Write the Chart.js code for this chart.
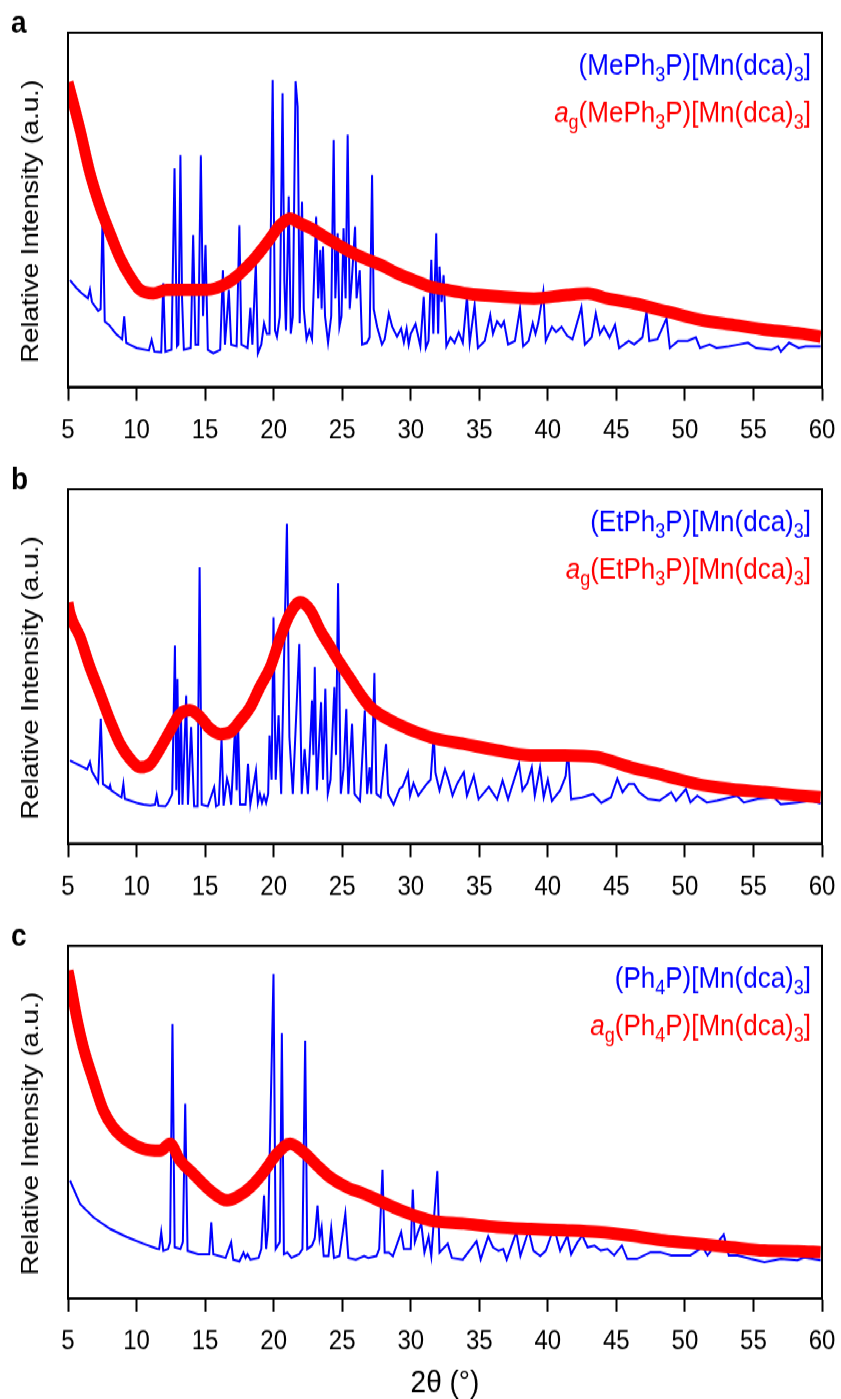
<!DOCTYPE html>
<html><head><meta charset="utf-8">
<script src="https://cdn.jsdelivr.net/npm/chart.js@4.4.1/dist/chart.umd.min.js"></script>
<style>
html,body{margin:0;padding:0;background:#fff;overflow:hidden;}
#wrap{position:absolute;left:0;top:0;width:841px;height:1238px;transform:scaleY(1.13);transform-origin:0 0;}
canvas{position:absolute;left:0;}
</style></head><body>
<div id="wrap">
<canvas id="ca" width="841" height="404" style="top:0px;width:841px;height:404px"></canvas>
<canvas id="cb" width="841" height="404" style="top:404px;width:841px;height:404px"></canvas>
<canvas id="cc" width="841" height="430" style="top:808px;width:841px;height:430px"></canvas>
</div>
<script>
// ---- x axis ----
const xMin = 5, xMax = 60, xStep = 5;
const xAxisTitle = '2θ (°)';
const yAxisTitle = 'Relative Intensity (a.u.)';

// ---- panel a : (MePh3P)[Mn(dca)3] ----
const aCrystal = [[5.15,30.2],[5.6,28],[6.0,26.5],[6.45,25],[6.6,27.5],[6.75,24],[7.2,21.5],[7.38,22],[7.53,49.5],[7.68,18.5],[8.0,17.5],[8.5,15],[8.95,13.5],[9.1,19.9],[9.25,12.5],[10.0,11],[10.9,10.3],[11.1,13.3],[11.3,10],[11.8,9.8],[11.95,29.3],[12.1,10],[12.55,10.5],[12.77,61.7],[12.95,11.5],[13.05,12],[13.2,65.5],[13.32,25],[13.45,10.5],[13.95,11],[14.13,42.9],[14.3,12],[14.5,12],[14.69,65.4],[14.85,20],[15.03,40.1],[15.2,10.5],[15.6,9.5],[16.1,10.5],[16.3,33],[16.45,12],[16.6,20],[16.73,27.4],[16.9,12],[17.3,11.5],[17.5,45.6],[17.65,12],[18.1,11],[18.3,22.3],[18.45,12],[18.7,34.9],[18.85,9.5],[19.1,12],[19.3,18],[19.5,15],[19.7,15],[19.93,86.7],[20.1,16],[20.24,14.2],[20.45,20],[20.65,82.9],[20.78,30],[20.9,16],[21.1,53.8],[21.25,15],[21.4,20],[21.6,86.3],[21.75,79.2],[21.9,18],[22.07,52.3],[22.2,22],[22.4,13.5],[22.6,16],[22.8,13.5],[23.1,48.1],[23.25,25],[23.4,38.7],[23.5,22],[23.6,39.6],[23.75,20],[23.97,12.5],[24.2,20],[24.38,69.8],[24.5,25],[24.67,43.4],[24.8,17],[24.95,20],[25.1,44.8],[25.25,25],[25.4,71.2],[25.55,22],[25.7,30],[25.94,45.3],[26.05,25],[26.28,33],[26.45,12],[26.8,12.5],[27.0,14],[27.18,59.9],[27.3,22],[27.55,17],[27.9,12],[28.1,13.5],[28.4,20.8],[28.65,17],[29.0,14.2],[29.3,16.5],[29.5,12.6],[29.7,16.5],[29.85,12],[30.0,15],[30.35,17.8],[30.7,11.5],[30.95,25.5],[31.1,11],[31.3,13],[31.5,35.9],[31.65,15],[31.86,43.4],[32.0,15],[32.1,34],[32.25,24],[32.4,31.6],[32.6,11.5],[32.9,14],[33.2,12.5],[33.5,15.5],[33.8,12.5],[34.1,25.5],[34.3,12.5],[34.66,23.2],[34.9,11],[35.4,13],[35.8,20.3],[36.0,15],[36.3,18.5],[36.6,17],[36.8,18.5],[37.1,12],[37.6,13],[37.97,22.2],[38.2,11.5],[38.6,13],[38.9,18],[39.1,15],[39.3,18],[39.67,26.9],[39.85,13],[40.3,17],[40.6,15.5],[41.0,17],[41.4,14.5],[41.8,13.5],[42.45,22.5],[42.7,12],[43.2,14],[43.5,20.8],[43.8,15],[44.1,17],[44.5,14],[44.9,17.5],[45.2,11],[45.9,13],[46.3,12],[46.9,14],[47.2,21.3],[47.4,13],[48.0,13.5],[48.66,19.4],[48.9,11],[49.5,13],[50.2,13],[50.8,14],[51.1,11],[51.8,12],[52.3,11],[53.2,11.5],[53.9,12],[54.6,12.5],[55.2,11],[56.3,10.5],[56.8,11.5],[57.0,10],[57.6,12.5],[58.3,11],[58.8,11.5],[59.9,11.5]];
const aGlass = [[5.0,86],[5.27,82],[5.88,72.6],[6.6,60.4],[7.34,50.9],[8.07,43.4],[8.8,36.4],[9.53,31.2],[10.26,27.4],[11.23,26.4],[12.2,27.4],[13.67,27.4],[15.13,27.4],[16.6,29.3],[17.56,32.1],[18.53,35.9],[19.5,40.6],[20.5,45.8],[21.2,47.5],[21.95,46.2],[22.9,44.4],[24.1,41.5],[25.35,38.7],[26.57,36.4],[27.8,34.5],[29.0,32.1],[30.2,30.2],[31.45,28.3],[32.5,27.5],[34.1,26.4],[36.55,25.5],[38.99,25.0],[41.4,26.0],[42.9,26.4],[44.35,25.0],[46.3,23.6],[48.7,21.3],[51.2,18.9],[53.6,17.5],[56.0,16.1],[58.47,15.1],[59.9,14.2]];

// ---- panel b : (EtPh3P)[Mn(dca)3] ----
const bCrystal = [[5.15,23.4],[6.4,21],[6.6,23],[6.75,20.3],[7.2,17.3],[7.39,35.2],[7.55,16.8],[8.0,15.5],[8.07,16.4],[8.15,15],[8.9,13],[9.04,16.8],[9.15,12.6],[10.0,11.5],[10.5,11],[11.0,10.8],[11.35,11],[11.47,13.6],[11.6,10.7],[12.1,10.5],[12.3,11.5],[12.6,14],[12.8,55.9],[12.9,15],[12.98,46.5],[13.1,11],[13.23,38.5],[13.35,11],[13.62,41.8],[13.75,11],[13.98,32.9],[14.2,10.5],[14.45,10.5],[14.6,78],[14.75,11],[15.2,10.5],[15.66,15.9],[15.8,10.5],[16.0,11],[16.2,29.6],[16.35,10.7],[16.6,18.3],[16.75,16],[16.9,11],[17.2,33.8],[17.3,15],[17.4,34.7],[17.55,11],[17.95,11],[18.13,22.5],[18.3,11],[18.71,20.6],[18.85,11.5],[19.0,14],[19.15,11.5],[19.3,13.5],[19.45,11.5],[19.6,14],[19.7,30.5],[19.85,18],[19.99,63.9],[20.15,18],[20.36,36.2],[20.55,14],[20.97,90.3],[21.15,30],[21.4,14],[21.87,56.4],[22.05,14],[22.26,26.7],[22.5,14],[22.8,40.4],[22.9,25],[23.0,49.8],[23.15,15],[23.46,39.9],[23.6,18],[23.77,43.7],[23.95,14],[24.15,18],[24.43,44.2],[24.55,25],[24.7,73.5],[24.9,14],[25.1,21],[25.3,38],[25.45,14],[25.72,33.8],[25.9,14],[26.3,12],[26.65,37.6],[26.82,14],[27.0,21.5],[27.12,14],[27.35,48.1],[27.5,14],[27.8,13],[28.2,28.1],[28.35,14],[28.75,11],[29.2,15.5],[29.4,16],[29.8,20.1],[29.95,13.5],[30.2,17],[30.55,13.5],[31.2,17],[31.45,18],[31.68,30.9],[31.8,20],[32.1,15],[32.5,21],[32.75,18],[33.05,13.5],[33.4,17],[33.87,20.1],[34.1,13.5],[34.6,19.2],[34.95,12.5],[35.7,16],[36.3,12.5],[36.7,17.8],[37.1,12.5],[37.9,22.5],[38.15,15],[38.5,17],[38.83,21.5],[39.05,13.5],[39.43,21.5],[39.7,13],[40.0,18],[40.3,12],[40.9,15],[41.3,19],[41.47,26.3],[41.7,12.5],[42.5,13],[43.3,14],[43.9,11.5],[44.6,13],[45.07,18.3],[45.45,14.5],[45.9,16.8],[46.3,16.8],[46.66,14.5],[47.3,12.6],[48.15,12.1],[49.0,14.5],[49.35,12.1],[50.07,15.4],[50.4,11.6],[50.9,13.5],[51.6,11.6],[52.35,12.1],[53.8,13.5],[54.3,11.6],[55.3,12.6],[56.5,13],[57.0,11.1],[58.2,11.6],[59.2,12.1],[59.9,11.3]];
const bGlass = [[5.0,68],[5.15,64.9],[5.88,58.3],[6.6,49.8],[7.34,42.3],[8.07,34.7],[8.8,28.1],[9.53,23.9],[10.26,21.5],[11.0,22.5],[11.7,26.7],[12.45,31.9],[13.18,36.6],[13.9,37.6],[14.64,35.7],[15.37,32.4],[16.1,30.9],[16.8,31.4],[17.56,34.7],[18.3,38.5],[19.0,44.2],[19.76,49.8],[20.5,58.3],[21.2,64.9],[21.95,68.2],[22.68,65.8],[23.4,60.2],[24.1,55.7],[24.86,50.8],[25.6,46.5],[26.3,42.3],[27.06,38.5],[29.0,33.8],[31.45,30],[33.9,28.1],[36.3,26.3],[38.75,24.9],[41.2,24.9],[43.6,24.4],[46.05,21.5],[48.5,19.2],[50.9,16.8],[53.36,15.4],[55.8,14.5],[58.2,13.6],[59.9,13.1]];

// ---- panel c : (Ph4P)[Mn(dca)3] ----
const cCrystal = [[5.15,33.4],[5.88,26.8],[6.85,23],[8.07,19.7],[9.29,17.4],[10.5,15.5],[11.48,14.1],[11.65,14],[11.8,18.8],[11.95,13.5],[12.3,14],[12.45,16],[12.62,77.8],[12.78,14.5],[13.2,14],[13.38,16],[13.55,55.2],[13.72,13.5],[14.5,12.5],[15.3,12.5],[15.45,21.6],[15.6,12.5],[16.5,11.5],[16.9,15.9],[17.05,11],[17.5,10.5],[17.8,13],[17.95,11.5],[18.1,12.5],[18.3,11],[18.9,11.5],[19.1,14],[19.3,29.2],[19.45,14],[19.6,20],[19.99,92],[20.15,14],[20.45,16],[20.6,75.2],[20.75,12.5],[21.0,13],[21.3,11.5],[21.85,12.5],[22.1,14],[22.3,73.1],[22.45,14],[22.8,15],[23.0,17],[23.2,26.3],[23.35,17],[23.5,20.2],[23.65,12],[24.0,12],[24.2,19.9],[24.4,11.5],[24.8,12],[25.23,24],[25.45,11.5],[26.0,11],[26.6,12],[26.9,11.5],[27.5,12],[27.7,14],[27.94,36.5],[28.1,13],[28.4,13],[28.7,12],[29.3,18.8],[29.5,14],[30.0,14],[30.15,30.8],[30.3,16],[30.55,19],[30.77,21.2],[31.0,13],[31.3,17.5],[31.5,12],[31.94,36.1],[32.1,13],[32.7,15.5],[33.0,11.5],[33.8,11],[34.8,16.2],[35.1,11],[35.65,17.6],[36.0,14.5],[36.4,13.5],[36.75,14],[37.0,11],[37.7,18.8],[38.0,12],[38.6,19.3],[38.95,13.5],[39.45,12],[39.85,13.5],[40.45,20.2],[40.9,13.5],[41.43,17.8],[41.7,12.5],[42.16,15.9],[42.52,17.8],[42.9,14.5],[43.4,15],[43.86,13.6],[44.35,14],[44.84,12.2],[45.4,15],[45.8,11.2],[46.5,11.2],[47.5,13.1],[48.2,13.1],[49.0,12.2],[50.4,12.2],[51.3,14.5],[51.65,12.2],[52.83,18.1],[53.2,12.2],[53.85,12.2],[54.8,11.2],[55.8,10.3],[57.0,11.2],[58.2,10.8],[58.7,11.6],[59.9,10.8]];
const cGlass = [[5.0,93],[5.15,90],[5.63,79.7],[6.12,71.2],[6.85,61.8],[7.58,53.3],[8.3,48.5],[9.29,44.8],[10.5,42.4],[11.7,41.9],[12.45,43.8],[13.18,39.1],[14.15,35.3],[15.37,30.6],[16.6,27.8],[17.3,28.7],[18.3,31.5],[19.27,35.8],[20.24,41],[21.2,43.8],[22.2,41.4],[23.17,37.7],[24.1,34.4],[25.35,31.5],[26.57,29.7],[29.0,25.4],[31.45,22.1],[33.9,21.2],[36.3,20.2],[38.75,19.7],[41.2,19.3],[43.6,18.8],[46.05,17.8],[48.5,16.4],[50.9,15.5],[53.36,14.5],[55.8,13.6],[58.2,13.4],[59.9,13.1]];

// ---- legend labels (rich text parts) ----
const aLabels = [
  {color:'#0000ff', parts:[['(MePh'],['3','sub'],['P)[Mn(dca)'],['3','sub'],[']']]},
  {color:'#ff0000', parts:[['a','it'],['g','sub'],['(MePh'],['3','sub'],['P)[Mn(dca)'],['3','sub'],[']']]}
];
const bLabels = [
  {color:'#0000ff', parts:[['(EtPh'],['3','sub'],['P)[Mn(dca)'],['3','sub'],[']']]},
  {color:'#ff0000', parts:[['a','it'],['g','sub'],['(EtPh'],['3','sub'],['P)[Mn(dca)'],['3','sub'],[']']]}
];
const cLabels = [
  {color:'#0000ff', parts:[['(Ph'],['4','sub'],['P)[Mn(dca)'],['3','sub'],[']']]},
  {color:'#ff0000', parts:[['a','it'],['g','sub'],['(Ph'],['4','sub'],['P)[Mn(dca)'],['3','sub'],[']']]}
];

const FONT = '"Liberation Sans", Arial, Helvetica, sans-serif';
const MAIN = 26, SUB = 18;

function partFont(kind){
  if (kind === 'sub') return SUB + 'px ' + FONT;
  if (kind === 'it') return 'italic ' + MAIN + 'px ' + FONT;
  return MAIN + 'px ' + FONT;
}
function drawRich(ctx, parts, right, baseline, color){
  let w = 0;
  parts.forEach(p => { ctx.font = partFont(p[1]); w += ctx.measureText(p[0]).width; });
  let x = right - w;
  ctx.fillStyle = color; ctx.textAlign = 'left'; ctx.textBaseline = 'alphabetic';
  parts.forEach(p => {
    ctx.font = partFont(p[1]);
    ctx.fillText(p[0], x, baseline + (p[1] === 'sub' ? 6 : 0));
    x += ctx.measureText(p[0]).width;
  });
}

const panelDecor = {
  id: 'panelDecor',
  afterDatasetsDraw(chart, args, opts) {
    const ctx = chart.ctx, ca = chart.chartArea;
    ctx.save();
    ctx.strokeStyle = '#000'; ctx.lineWidth = 2;
    ctx.strokeRect(ca.left, ca.top, ca.right - ca.left, ca.bottom - ca.top);
    ctx.fillStyle = '#000';
    ctx.font = 'bold 28px ' + FONT;
    ctx.textAlign = 'left'; ctx.textBaseline = 'alphabetic';
    ctx.fillText(opts.letter, 11, ca.top);
    opts.labels.forEach((lab, i) => drawRich(ctx, lab.parts, 811, ca.top + [37, 79][i], lab.color));
    ctx.restore();
  }
};

function toXY(arr){ return arr.map(p => ({x:p[0], y:p[1]})); }

function makeChart(id, crystal, glass, letter, labels, plotBottom, canvasH, showXTitle){
  return new Chart(document.getElementById(id), {
    type: 'line',
    data: { datasets: [
      {label:'crystal', data: toXY(crystal), borderColor:'#0000ff', borderWidth:2, pointRadius:0, tension:0, order:2},
      {label:'glass', data: toXY(glass), borderColor:'#ff0000', borderWidth:11, pointRadius:0, tension:0.4, cubicInterpolationMode:'monotone', order:1}
    ]},
    options: {
      responsive:false, animation:false, devicePixelRatio:1,
      layout:{autoPadding:false, padding:{top:29, left:0, right:19, bottom:0}},
      plugins:{legend:{display:false}, tooltip:{enabled:false}, panelDecor:{letter, labels}},
      scales:{
        x:{type:'linear', min:xMin, max:xMax,
           afterFit(s){ s.height = canvasH - plotBottom; s.paddingLeft = 0; s.paddingRight = 0; },
           ticks:{stepSize:xStep, font:{size:24, family:FONT}, color:'#000', padding:12, maxRotation:0, autoSkip:false},
           grid:{display:true, drawOnChartArea:false, drawTicks:true, tickLength:12, tickWidth:2, tickColor:'#000', color:'#000'},
           border:{display:true, color:'#000', width:2},
           title:{display:showXTitle, text:xAxisTitle, font:{size:28, family:FONT, lineHeight:1}, color:'#000', padding:{top:0, bottom:0}}},
        y:{type:'linear', min:0, max:100,
           afterFit(s){ s.width = 68; },
           ticks:{display:false}, grid:{display:false},
           border:{display:true, color:'#000', width:2},
           title:{display:true, text:yAxisTitle + '   ', font:{size:24.5, family:FONT}, color:'#000', padding:{top:17, bottom:0}}}
      }
    },
    plugins:[panelDecor]
  });
}

makeChart('ca', aCrystal, aGlass, 'a', aLabels, 342.5, 404, false);
makeChart('cb', bCrystal, bGlass, 'b', bLabels, 342.5, 404, false);
makeChart('cc', cCrystal, cGlass, 'c', cLabels, 341, 430, true);
</script>
</body></html>
